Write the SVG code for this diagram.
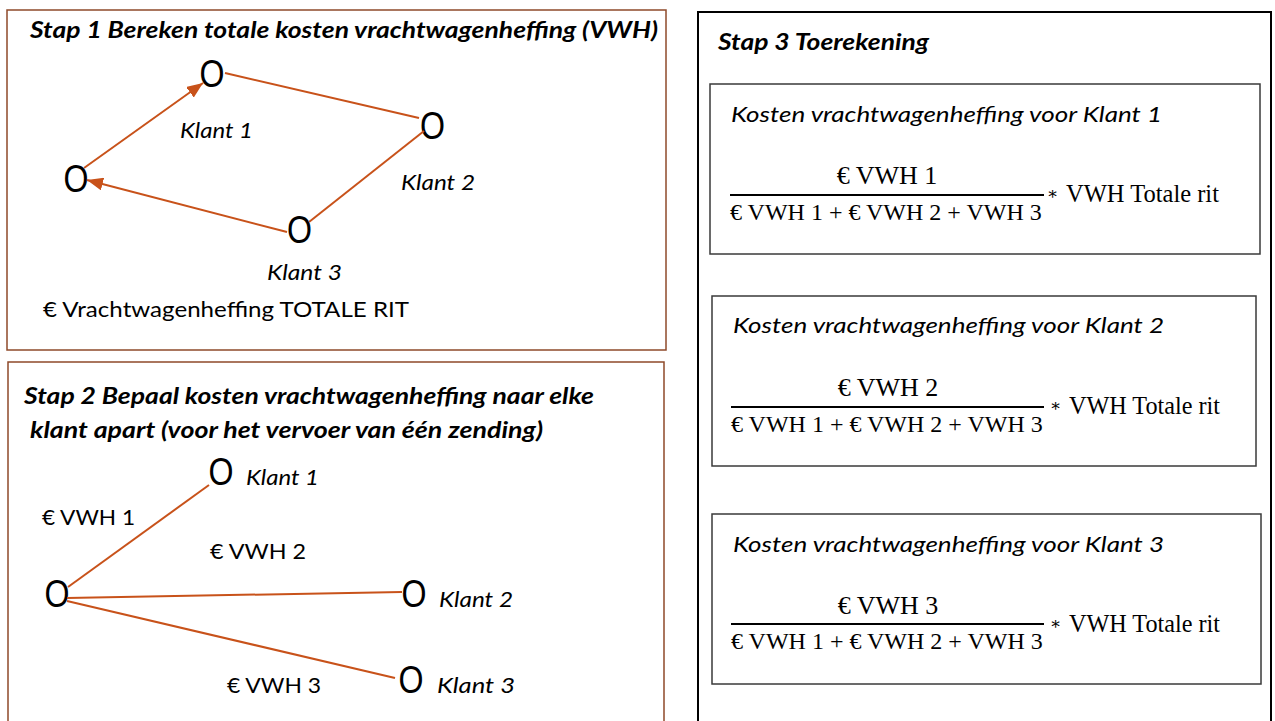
<svg xmlns="http://www.w3.org/2000/svg" width="1275" height="721" viewBox="0 0 1275 721">
<defs>
<style>
.sans{font-family:Lato,"Liberation Sans",sans-serif;fill:#000}
.title{font-family:Lato,"Liberation Sans",sans-serif;font-weight:bold;font-style:italic;font-size:23px;fill:#000}
.it{font-family:Lato,"Liberation Sans",sans-serif;font-style:italic;font-size:21px;fill:#000}
.o{font-family:"Liberation Sans",Arial,sans-serif;font-size:38px;fill:#000;text-anchor:middle}
.math{font-family:"Liberation Serif","DejaVu Serif",serif;font-size:26px;fill:#000}
.den{font-family:"Liberation Serif","DejaVu Serif",serif;font-size:24px;fill:#000}
.rit{font-family:"Liberation Serif","DejaVu Serif",serif;font-size:25px;fill:#000}
.ast{font-family:"DejaVu Serif",serif;font-size:17px;fill:#000}
.frame1{fill:none;stroke:#8e4a2a;stroke-width:1.5}
.frame3{fill:none;stroke:#000;stroke-width:2}
.inner{fill:none;stroke:#3a3a3a;stroke-width:1.5}
.conn{stroke:#c8521a;stroke-width:2;fill:none}
.frac{stroke:#000;stroke-width:2}
</style>
<marker id="arr" markerUnits="userSpaceOnUse" markerWidth="17" markerHeight="13" refX="16" refY="6.5" orient="auto">
<path d="M0,0 L16,6.5 L0,13 z" fill="#c8521a"/>
</marker>
</defs>
<rect width="1275" height="721" fill="#fff"/>

<!-- Stap 1 -->
<g id="stap1">
<rect class="frame1" x="7" y="10" width="659" height="340"/>
<text class="title" x="30" y="38" textLength="628" lengthAdjust="spacingAndGlyphs">Stap 1 Bereken totale kosten vrachtwagenheffing (VWH)</text>
<text class="sans" x="43" y="317" font-size="22" textLength="366" lengthAdjust="spacingAndGlyphs">€ Vrachtwagenheffing TOTALE RIT</text>
</g>
<g id="s1-top"><text class="o" x="212" y="87" textLength="25" lengthAdjust="spacingAndGlyphs">O</text><text class="it" x="180" y="138" textLength="73" lengthAdjust="spacingAndGlyphs">Klant 1</text></g>
<g id="s1-right"><text class="o" x="432.5" y="139" textLength="25" lengthAdjust="spacingAndGlyphs">O</text><text class="it" x="401" y="190" textLength="74" lengthAdjust="spacingAndGlyphs">Klant 2</text></g>
<g id="s1-bottom"><text class="o" x="299.5" y="243" textLength="25" lengthAdjust="spacingAndGlyphs">O</text><text class="it" x="267" y="280" textLength="75" lengthAdjust="spacingAndGlyphs">Klant 3</text></g>
<g id="s1-left"><text class="o" x="76" y="192" textLength="25" lengthAdjust="spacingAndGlyphs">O</text></g>

<!-- Stap 2 -->
<g id="stap2">
<path class="frame1" d="M8,721 V362 H664 V721"/>
<text class="title" x="24" y="404" textLength="570" lengthAdjust="spacingAndGlyphs">Stap 2 Bepaal kosten vrachtwagenheffing naar elke</text>
<text class="title" x="30" y="438" textLength="513" lengthAdjust="spacingAndGlyphs">klant apart (voor het vervoer van één zending)</text>
<text class="sans" x="42" y="525" font-size="22" textLength="93" lengthAdjust="spacingAndGlyphs">€ VWH 1</text>
<text class="sans" x="210" y="559" font-size="22" textLength="96" lengthAdjust="spacingAndGlyphs">€ VWH 2</text>
<text class="sans" x="227" y="693" font-size="22" textLength="94" lengthAdjust="spacingAndGlyphs">€ VWH 3</text>
</g>
<g id="s2-origin"><text class="o" x="57" y="607" textLength="25" lengthAdjust="spacingAndGlyphs">O</text></g>
<g id="s2-k1"><text class="o" x="221" y="485" textLength="25" lengthAdjust="spacingAndGlyphs">O</text><text class="it" x="246" y="485" textLength="73" lengthAdjust="spacingAndGlyphs">Klant 1</text></g>
<g id="s2-k2"><text class="o" x="414" y="607" textLength="25" lengthAdjust="spacingAndGlyphs">O</text><text class="it" x="439" y="607" textLength="74" lengthAdjust="spacingAndGlyphs">Klant 2</text></g>
<g id="s2-k3"><text class="o" x="411" y="693" textLength="25" lengthAdjust="spacingAndGlyphs">O</text><text class="it" x="437" y="693" textLength="78" lengthAdjust="spacingAndGlyphs">Klant 3</text></g>

<!-- Connectors -->
<g id="connectors">
<line class="conn" x1="225" y1="73" x2="419" y2="118"/>
<line class="conn" x1="424" y1="131" x2="309" y2="222"/>
<line class="conn" x1="287" y1="232" x2="87" y2="180" marker-end="url(#arr)"/>
<line class="conn" x1="84" y1="168" x2="203" y2="83" marker-end="url(#arr)"/>
<line class="conn" x1="68" y1="587" x2="209" y2="485"/>
<line class="conn" x1="67" y1="598" x2="402" y2="592"/>
<line class="conn" x1="67" y1="601" x2="395" y2="678"/>
</g>

<!-- Stap 3 -->
<g id="stap3">
<path class="frame3" d="M698,721 V12 H1271 V721"/>
<text class="title" x="718" y="50" textLength="211" lengthAdjust="spacingAndGlyphs">Stap 3 Toerekening</text>
</g>
<g id="klant1-box">
<rect class="inner" x="710" y="84" width="550" height="170"/>
<text class="it" x="731" y="122" font-size="22" textLength="431" lengthAdjust="spacingAndGlyphs">Kosten vrachtwagenheffing voor Klant 1</text>
<text class="math" x="887" y="184" text-anchor="middle">€ VWH 1</text>
<line class="frac" x1="730" y1="195" x2="1044" y2="195"/>
<text class="den" x="730" y="220">€ VWH 1 + € VWH 2 + VWH 3</text>
<text class="ast" x="1047" y="199">∗</text>
<text class="rit" x="1066" y="202" textLength="153" lengthAdjust="spacingAndGlyphs">VWH Totale rit</text>
</g>
<g id="klant2-box">
<rect class="inner" x="712" y="296" width="544" height="170"/>
<text class="it" x="733" y="333" font-size="22" textLength="431" lengthAdjust="spacingAndGlyphs">Kosten vrachtwagenheffing voor Klant 2</text>
<text class="math" x="888" y="396" text-anchor="middle">€ VWH 2</text>
<line class="frac" x1="731" y1="407" x2="1044" y2="407"/>
<text class="den" x="731" y="432">€ VWH 1 + € VWH 2 + VWH 3</text>
<text class="ast" x="1050" y="411">∗</text>
<text class="rit" x="1069" y="414" textLength="151" lengthAdjust="spacingAndGlyphs">VWH Totale rit</text>
</g>
<g id="klant3-box">
<rect class="inner" x="712" y="514" width="549" height="170"/>
<text class="it" x="733" y="552" font-size="22" textLength="431" lengthAdjust="spacingAndGlyphs">Kosten vrachtwagenheffing voor Klant 3</text>
<text class="math" x="888" y="614" text-anchor="middle">€ VWH 3</text>
<line class="frac" x1="731" y1="624" x2="1044" y2="624"/>
<text class="den" x="731" y="649">€ VWH 1 + € VWH 2 + VWH 3</text>
<text class="ast" x="1050" y="629">∗</text>
<text class="rit" x="1069" y="632" textLength="151" lengthAdjust="spacingAndGlyphs">VWH Totale rit</text>
</g>
</svg>
